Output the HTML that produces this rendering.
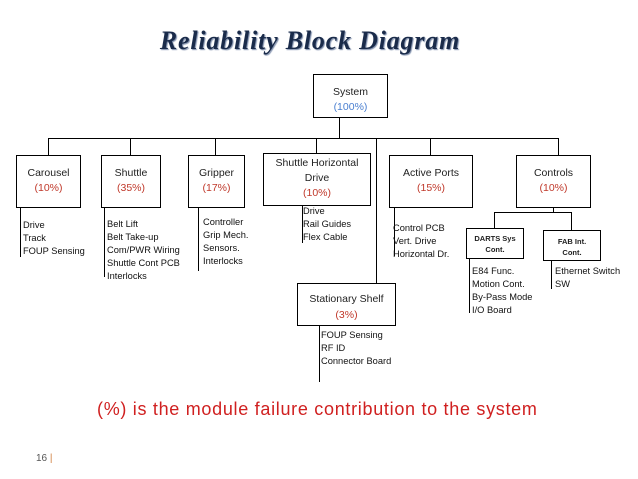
<!DOCTYPE html>
<html><head><meta charset="utf-8"><style>
body{margin:0;width:638px;height:479px;background:#fff;position:relative;overflow:hidden;font-family:"Liberation Sans",sans-serif}
.b{position:absolute;border:1.3px solid #000;box-sizing:border-box;text-align:center;font-size:10.5px;color:#222;background:#fff}
.r{color:#c0392b}
.l{position:absolute;background:#000}
.t{position:absolute;font-size:9.3px;line-height:13px;color:#111;white-space:nowrap}
</style></head><body>
<div style="position:absolute;left:110px;top:26px;width:400px;text-align:center;font:bold italic 26px 'Liberation Serif',serif;color:#1a2b4a;text-shadow:1px 1px 1px #7a8aa8;letter-spacing:0.8px">Reliability Block Diagram</div>

<div class="l" style="left:339px;top:117px;width:1px;height:22px"></div>
<div class="l" style="left:48px;top:138px;width:511px;height:1px"></div>
<div class="l" style="left:48px;top:138px;width:1px;height:17px"></div>
<div class="l" style="left:130px;top:138px;width:1px;height:17px"></div>
<div class="l" style="left:215px;top:138px;width:1px;height:17px"></div>
<div class="l" style="left:316px;top:138px;width:1px;height:15px"></div>
<div class="l" style="left:376px;top:138px;width:1px;height:145px"></div>
<div class="l" style="left:430px;top:138px;width:1px;height:17px"></div>
<div class="l" style="left:558px;top:138px;width:1px;height:17px"></div>
<div class="l" style="left:20px;top:207px;width:1px;height:50px"></div>
<div class="l" style="left:104px;top:207px;width:1px;height:70px"></div>
<div class="l" style="left:198px;top:207px;width:1px;height:64px"></div>
<div class="l" style="left:302px;top:205px;width:1px;height:38px"></div>
<div class="l" style="left:394px;top:207px;width:1px;height:49px"></div>
<div class="l" style="left:553px;top:207px;width:1px;height:6px"></div>
<div class="l" style="left:494px;top:212px;width:78px;height:1px"></div>
<div class="l" style="left:494px;top:212px;width:1px;height:16px"></div>
<div class="l" style="left:571px;top:212px;width:1px;height:18px"></div>
<div class="l" style="left:469px;top:258px;width:1px;height:55px"></div>
<div class="l" style="left:551px;top:260px;width:1px;height:29px"></div>
<div class="l" style="left:319px;top:325px;width:1px;height:57px"></div>

<div class="b" style="left:313px;top:74px;width:75px;height:44px;padding-top:10px;line-height:15px">System<br><span style="color:#4a7fd0">(100%)</span></div>
<div class="b" style="left:16px;top:155px;width:65px;height:53px;padding-top:10px;line-height:15px">Carousel<br><span class="r">(10%)</span></div>
<div class="b" style="left:101px;top:155px;width:60px;height:53px;padding-top:10px;line-height:15px">Shuttle<br><span class="r">(35%)</span></div>
<div class="b" style="left:188px;top:155px;width:57px;height:53px;padding-top:10px;line-height:15px">Gripper<br><span class="r">(17%)</span></div>
<div class="b" style="left:263px;top:153px;width:108px;height:53px;padding-top:2px;line-height:15px">Shuttle Horizontal<br>Drive<br><span class="r">(10%)</span></div>
<div class="b" style="left:389px;top:155px;width:84px;height:53px;padding-top:10px;line-height:15px">Active Ports<br><span class="r">(15%)</span></div>
<div class="b" style="left:516px;top:155px;width:75px;height:53px;padding-top:10px;line-height:15px">Controls<br><span class="r">(10%)</span></div>
<div class="b" style="left:466px;top:228px;width:58px;height:31px;padding-top:4px;line-height:11px;font-size:7.5px;font-weight:bold">DARTS Sys<br>Cont.</div>
<div class="b" style="left:543px;top:230px;width:58px;height:31px;padding-top:5px;line-height:11px;font-size:7.5px;font-weight:bold">FAB Int.<br>Cont.</div>
<div class="b" style="left:297px;top:283px;width:99px;height:43px;padding-top:7px;line-height:16px">Stationary Shelf<br><span class="r">(3%)</span></div>

<div class="t" style="left:23px;top:219px">Drive<br>Track<br>FOUP Sensing</div>
<div class="t" style="left:107px;top:218px">Belt Lift<br>Belt Take-up<br>Com/PWR Wiring<br>Shuttle Cont PCB<br>Interlocks</div>
<div class="t" style="left:203px;top:216px">Controller<br>Grip Mech.<br>Sensors.<br>Interlocks</div>
<div class="t" style="left:303px;top:205px">Drive<br>Rail Guides<br>Flex Cable</div>
<div class="t" style="left:393px;top:222px">Control PCB<br>Vert. Drive<br>Horizontal Dr.</div>
<div class="t" style="left:472px;top:265px">E84 Func.<br>Motion Cont.<br>By-Pass Mode<br>I/O Board</div>
<div class="t" style="left:555px;top:265px">Ethernet Switch<br>SW</div>
<div class="t" style="left:321px;top:329px">FOUP Sensing<br>RF ID<br>Connector Board</div>

<div style="position:absolute;left:97px;top:399px;font-size:18px;letter-spacing:0.7px;color:#d02020;white-space:nowrap">(%) is the module failure contribution to the system</div>
<div style="position:absolute;left:36px;top:453px;font-size:10px;color:#555">16 <span style="color:#d08040">|</span></div>
</body></html>
